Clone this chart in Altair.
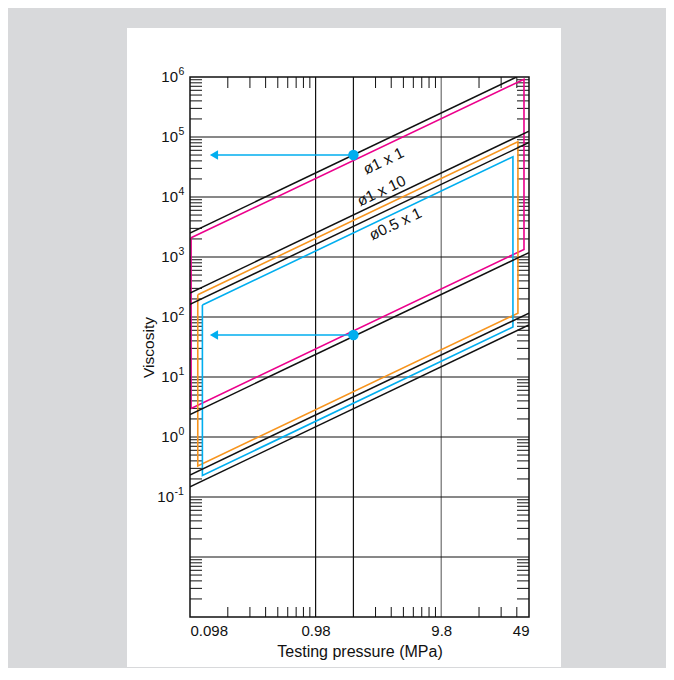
import altair as alt
import pandas as pd

# ---------------- data ----------------
pressure_labels = [0.098, 0.98, 9.8, 49]
viscosity_exponents = [6, 5, 4, 3, 2, 1, 0]
viscosity_neg_exponents = [-1]
grid_pressure = [0.98, 1.96, 9.8]
grid_pressure_color = ["#111111", "#111111", "#6e6e6e"]
grid_viscosity = [1e-2, 1e-1, 1e0, 1e1, 1e2, 1e3, 1e4, 1e5]

# minor tick positions (log sub-divisions)
y_minor = [k * 10.0 ** n for n in range(-3, 6) for k in range(2, 10)]
x_minor = [0.098 * k for k in range(2, 10)] + [0.98 * k for k in range(3, 10)] + [9.8 * k for k in range(2, 5)]

# coloured ranges (closed outlines)
pink_P = [0.1, 44.7, 44.7, 0.1, 0.1]
pink_V = [2090, 916000, 1340, 3.0, 2090]
orange_P = [0.113, 40.0, 40.0, 0.113, 0.113]
orange_V = [235, 83400, 116, 0.33, 235]
blue_P = [0.123, 36.5, 36.5, 0.123, 0.123]
blue_V = [158, 46900, 68, 0.229, 158]

# black limit lines (two end points each)
black_P = {"A": [0.098, 39.0], "B": [0.098, 49], "C": [0.098, 49],
           "D": [0.098, 49], "E": [0.098, 49], "F": [0.098, 49]}
black_V = {"A": [2510, 1.0e6], "B": [2.37, 1186], "C": [251, 125600],
           "D": [162, 81100], "E": [0.233, 116], "F": [0.148, 74]}

# example points and arrows
dot_P = [1.96, 1.96]
dot_V = [50000, 50]
arrow_end_P = [0.152, 0.152]

# line labels
label_text = ["ø1 x 1", "ø1 x 10", "ø0.5 x 1"]
label_P = [3.40, 3.28, 4.23]
label_V = [39800, 12600, 3550]

PINK = "#EC008C"
ORANGE = "#F7941D"
CYAN = "#00AEEF"
INK = "#111111"
FONT = "Liberation Sans"

# ---------------- tables ----------------
rows = []
for name, P, V, col in [("pink", pink_P, pink_V, PINK), ("orange", orange_P, orange_V, ORANGE),
                        ("blue", blue_P, blue_V, CYAN)]:
    for i, (p, v) in enumerate(zip(P, V)):
        rows.append({"id": name, "o": i, "P": p, "V": v, "c": col})
poly_df = pd.DataFrame(rows)

rows = []
for k in black_P:
    for i, (p, v) in enumerate(zip(black_P[k], black_V[k])):
        rows.append({"id": k, "o": i, "P": p, "V": v})
black_df = pd.DataFrame(rows)

rows = []
for j, (p0, v, p1) in enumerate(zip(dot_P, dot_V, arrow_end_P)):
    rows.append({"id": j, "o": 0, "P": p0, "V": v})
    rows.append({"id": j, "o": 1, "P": p1, "V": v})
arrow_df = pd.DataFrame(rows)
head_df = pd.DataFrame({"P": arrow_end_P, "V": dot_V})
dot_df = pd.DataFrame({"P": dot_P, "V": dot_V})
label_df = pd.DataFrame({"t": label_text, "P": label_P, "V": label_V})
vgrid_df = pd.DataFrame({"P": grid_pressure, "c": grid_pressure_color})
hgrid_df = pd.DataFrame({"V": grid_viscosity})
ymin_df = pd.DataFrame({"V": y_minor})
xmin_df = pd.DataFrame({"P": x_minor})
pos_df = pd.DataFrame({"V": [10.0 ** e for e in viscosity_exponents],
                       "b": ["10"] * len(viscosity_exponents),
                       "e": [str(e) for e in viscosity_exponents]})
neg_df = pd.DataFrame({"V": [10.0 ** e for e in viscosity_neg_exponents],
                       "b": ["10"] * len(viscosity_neg_exponents),
                       "e": [str(e) for e in viscosity_neg_exponents]})

W, H = 339, 540

xscale = alt.Scale(type="log", domain=[0.098, 49], nice=False)
yscale = alt.Scale(type="log", domain=[1e-3, 1e6], nice=False)

xaxis = alt.Axis(values=pressure_labels, format=".3~g", title="Testing pressure (MPa)",
                 grid=False, ticks=False, domain=False, labelFlush=True, zindex=2,
                 labelFontSize=15, labelPadding=6, titleFontSize=16, titlePadding=5,
                 labelColor=INK, titleColor=INK, titleFontWeight="normal")
yaxis = alt.Axis(title="Viscosity", labels=False, grid=False, ticks=False, domain=False,
                 zindex=2, titleFontSize=15.5, titlePadding=34,
                 titleColor=INK, titleFontWeight="normal")

X = alt.X("P:Q", scale=xscale, axis=xaxis)
Y = alt.Y("V:Q", scale=yscale, axis=yaxis)

panel = alt.Chart(alt.Data(values=[{}])).mark_rect(fill="white", clip=False).encode(
    x=alt.value(-63), x2=alt.value(371), y=alt.value(-49), y2=alt.value(590))
frame = alt.Chart(alt.Data(values=[{}])).mark_rect(
    fillOpacity=0, stroke=INK, strokeWidth=1.5, clip=False).encode(
    x=alt.value(0), x2=alt.value(W), y=alt.value(0), y2=alt.value(H))

vgrid = alt.Chart(vgrid_df).mark_rule(strokeWidth=1.2).encode(
    x=X, color=alt.Color("c:N", scale=None))
hgrid = alt.Chart(hgrid_df).mark_rule(strokeWidth=1, color=INK).encode(y=Y)

yl = alt.Chart(ymin_df).mark_rule(strokeWidth=1, color=INK).encode(
    y=Y, x=alt.value(0), x2=alt.value(12))
yr = alt.Chart(ymin_df).mark_rule(strokeWidth=1, color=INK).encode(
    y=Y, x=alt.value(W - 12), x2=alt.value(W))
xb = alt.Chart(xmin_df).mark_rule(strokeWidth=1, color=INK).encode(
    x=X, y=alt.value(H - 10), y2=alt.value(H))
xt = alt.Chart(xmin_df).mark_rule(strokeWidth=1, color=INK).encode(
    x=X, y=alt.value(0), y2=alt.value(11))

# y tick labels: "10" plus a raised exponent
def base_layer(df, xpos):
    return alt.Chart(df).mark_text(fontSize=15, align="right", baseline="middle",
                                   color=INK, clip=False, font=FONT).encode(
        y=Y, x=alt.value(xpos), text="b:N")

def exp_layer(df, xpos):
    return alt.Chart(df).mark_text(fontSize=10.5, align="left", baseline="middle", dy=-5,
                                   color=INK, clip=False, font=FONT).encode(
        y=Y, x=alt.value(xpos), text="e:N")

ylab = [base_layer(pos_df, -12), exp_layer(pos_df, -11.5),
        base_layer(neg_df, -16), exp_layer(neg_df, -15.5)]

polys = alt.Chart(poly_df).mark_line(strokeWidth=1.6, clip=True).encode(
    x=X, y=Y, detail="id:N", order="o:Q", color=alt.Color("c:N", scale=None))
blacks = alt.Chart(black_df).mark_line(strokeWidth=1.5, color=INK, clip=True).encode(
    x=X, y=Y, detail="id:N", order="o:Q")
arrows = alt.Chart(arrow_df).mark_line(strokeWidth=1.5, color=CYAN).encode(
    x=X, y=Y, detail="id:N", order="o:Q")
heads = alt.Chart(head_df).mark_point(shape="triangle-left", filled=True, size=90,
                                      color=CYAN, opacity=1).encode(x=X, y=Y)
dots = alt.Chart(dot_df).mark_circle(size=110, color=CYAN, opacity=1).encode(x=X, y=Y)
labels = alt.Chart(label_df).mark_text(fontSize=15.5, angle=334.5, align="center",
                                       baseline="middle", color=INK, font=FONT).encode(
    x=X, y=Y, text="t:N")

chart = alt.layer(panel, vgrid, hgrid, yl, yr, xb, xt, polys, blacks, arrows, heads, dots,
                  labels, frame, *ylab).properties(
    width=W, height=H,
    autosize=alt.AutoSizeParams(type="none"),
    padding={"left": 182, "top": 69, "right": 137, "bottom": 51},
    background="#d8d9db",
).configure_view(stroke=None, fill="white"
).configure_axis(labelFont=FONT, titleFont=FONT)

chart.save("out.html", embed_options={"renderer": "svg", "actions": False})
